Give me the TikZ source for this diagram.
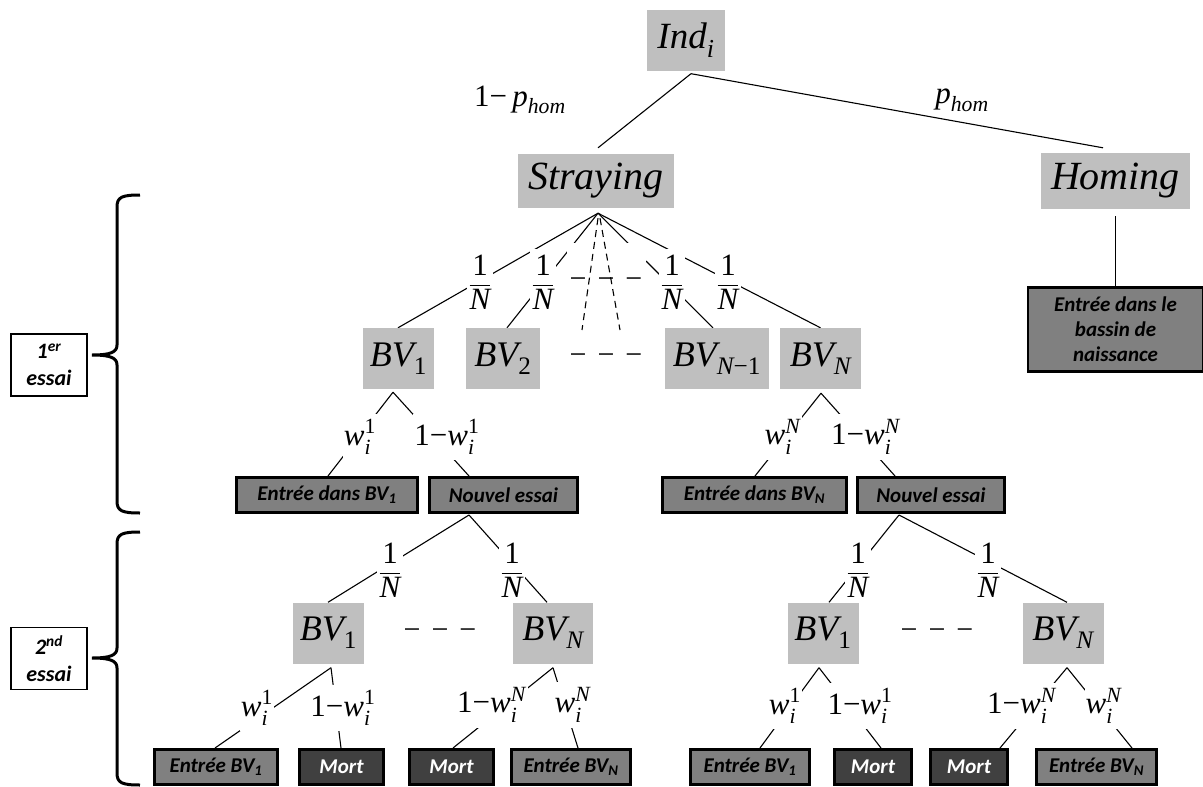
\documentclass[tikz,border=0pt]{standalone}
\usepackage{amsmath}
\usepackage{fontspec}
\setmainfont{Liberation Serif}
\newfontfamily\boxfont{Carlito}
\definecolor{bvgray}{RGB}{191,191,191}
\definecolor{outgray}{RGB}{128,128,128}
\definecolor{deadgray}{RGB}{64,64,64}
\pgfdeclarelayer{links}
\pgfsetlayers{links,main}

% probability labels
\newcommand\oneN{$\dfrac{\text{1}}{\textit{N}}$}
\newcommand\subi{\text{\raisebox{-1.5pt}{\textit{i}}}}
\newcommand\supN{\text{\raisebox{2pt}{\textit{N}}}}
\newcommand\supone{\text{\raisebox{2pt}{1}}}
\newcommand\wi[1]{$\textit{w}^{#1}_{\subi}$}
\newcommand\omwi[1]{$\text{1−}\textit{w}^{#1}_{\subi}$}
\newcommand\bvsub[1]{$\textit{BV}_{#1}$}
\newcommand\dashrow{−\hspace{11pt}−\hspace{11pt}−}

\begin{document}
\begin{tikzpicture}[x=1pt,y=-1pt,
  link/.style={line width=1.1pt},
  bvbox/.style={fill=bvgray, inner sep=0pt, minimum height=61pt, font=\fontsize{36}{40}\selectfont},
  topbox/.style={fill=bvgray, inner sep=0pt, font=\fontsize{40}{44}\selectfont\itshape},
  prob/.style={fill=white, inner xsep=1pt, inner ysep=6pt, font=\fontsize{31}{33}\selectfont},
  plainprob/.style={inner sep=0pt, font=\fontsize{31}{33}\selectfont},
  gap/.style={fill=white, inner sep=0pt, font=\fontsize{30}{32}\selectfont},
  outbox/.style={draw=black, line width=2.6pt, fill=outgray, minimum height=35.4pt, inner sep=0pt,
    font=\boxfont\bfseries\itshape\fontsize{21}{24}\selectfont},
  deadbox/.style={outbox, fill=deadgray, text=white},
  trialbox/.style={draw=black, line width=1.4pt, fill=white, minimum width=76pt, minimum height=62pt,
    inner sep=0pt, align=center, font=\boxfont\bfseries\itshape\fontsize{22}{27}\selectfont},
  brace/.style={line width=3pt}
]
\useasboundingbox (0,0) rectangle (1203,787);

% ---- root and first split
\node[topbox, minimum width=78pt, minimum height=61pt, font=\fontsize{37}{40}\selectfont] (ind) at (686,40) {\textit{Ind}$_{\textit{i}}$};
\node[topbox, minimum width=156pt, minimum height=54pt] (stray) at (596,181) {Straying};
\node[topbox, minimum width=149pt, minimum height=56pt] (homing) at (1115.5,181) {Homing};
\node[plainprob] (pstray) at (520,100) {$\text{1−\,}\textit{p}_{\textit{hom}}$};
\node[plainprob] (phome) at (962,100) {$\textit{p}_{\textit{hom}}$};
\node[outbox, minimum width=175.4pt, minimum height=84.4pt, align=center,
  font=\boxfont\bfseries\itshape\fontsize{21}{25}\selectfont] (bassin) at (1115.5,329.5)
  {Entrée dans le\\bassin de\\naissance};

% ---- first trial
\node[gap, minimum width=79pt, minimum height=80pt] (gap0) at (606,283) {\dashrow};
\node[prob] (f1) at (480,282) {\oneN};
\node[prob] (f2) at (543,282) {\oneN};
\node[prob] (f3) at (672,282) {\oneN};
\node[prob] (f4) at (728,282) {\oneN};

\node[bvbox, minimum width=71pt] (bv1) at (398.5,358.5) {\bvsub{\text{1}}};
\node[bvbox, minimum width=74pt] (bv2) at (503,358.5) {\bvsub{\text{2}}};
\node[gap] (gap1) at (606,359) {\dashrow};
\node[bvbox, minimum width=104pt] (bvn1) at (717,358.5) {\bvsub{\textit{N}\text{−1}}};
\node[bvbox, minimum width=81pt] (bvn) at (820.5,358.5) {\bvsub{\textit{N}}};

\node[prob] (w1) at (360,437) {\wi{\supone}};
\node[prob] (nw1) at (447,437) {\omwi{\supone}};
\node[prob] (wn) at (783,437) {\wi{\supN}};
\node[prob] (nwn) at (866,437) {\omwi{\supN}};

\node[outbox, minimum width=181.4pt] (e1) at (327,495) {Entrée dans BV\textsubscript{1}};
\node[outbox, minimum width=148.4pt] (ne1) at (503.5,495) {Nouvel essai};
\node[outbox, minimum width=184.4pt] (en) at (754.5,495) {Entrée dans BV\textsubscript{N}};
\node[outbox, minimum width=147.4pt] (ne2) at (931,495) {Nouvel essai};

% ---- second trial
\node[prob] (g1) at (390,570) {\oneN};
\node[prob] (g2) at (512,570) {\oneN};
\node[prob] (g3) at (858,570) {\oneN};
\node[prob] (g4) at (988,570) {\oneN};

\node[bvbox, minimum width=71pt] (l1) at (328.5,633) {\bvsub{\text{1}}};
\node[gap] (gapl) at (440,634) {\dashrow};
\node[bvbox, minimum width=80pt] (ln) at (553,633) {\bvsub{\textit{N}}};
\node[bvbox, minimum width=71pt] (r1) at (823,633) {\bvsub{\text{1}}};
\node[gap] (gapr) at (937,634) {\dashrow};
\node[bvbox, minimum width=81pt] (rn) at (1063,633) {\bvsub{\textit{N}}};

\node[prob] (lw1) at (257,708) {\wi{\supone}};
\node[prob] (lnw1) at (343,708) {\omwi{\supone}};
\node[prob] (lnwn) at (492,705) {\omwi{\supN}};
\node[prob] (lwn) at (573,705) {\wi{\supN}};
\node[prob] (rw1) at (785,706) {\wi{\supone}};
\node[prob] (rnw1) at (860,706) {\omwi{\supone}};
\node[prob] (rnwn) at (1022,706) {\omwi{\supN}};
\node[prob] (rwn) at (1104,706) {\wi{\supN}};

\node[outbox, minimum width=123.4pt] (b1) at (216,767) {Entrée BV\textsubscript{1}};
\node[deadbox, minimum width=84.4pt] (b2) at (341.5,767) {Mort};
\node[deadbox, minimum width=84.4pt] (b3) at (451.5,767) {Mort};
\node[outbox, minimum width=119.4pt] (b4) at (571,767) {Entrée BV\textsubscript{N}};
\node[outbox, minimum width=119.4pt] (b5) at (750,767) {Entrée BV\textsubscript{1}};
\node[deadbox, minimum width=77.4pt] (b6) at (873,767) {Mort};
\node[deadbox, minimum width=77.4pt] (b7) at (969,767) {Mort};
\node[outbox, minimum width=120.4pt] (b8) at (1096.5,767) {Entrée BV\textsubscript{N}};

% ---- trial labels and braces
\node[trialbox] (t1) at (49,365) {1\textsuperscript{er}\\essai};
\node[trialbox] (t2) at (49,658.5) {2\textsuperscript{nd}\\essai};
\draw[brace] (140,195) .. controls (122,195) and (117,197) .. (117,207) -- (117,345)
  .. controls (117,352) and (111,355) .. (92,355)
  .. controls (111,355) and (117,358) .. (117,365) -- (117,501)
  .. controls (117,511) and (122,513) .. (140,513);
\draw[brace] (140,532) .. controls (122,532) and (117,534) .. (117,544) -- (117,648)
  .. controls (117,655) and (111,658) .. (92,658)
  .. controls (111,658) and (117,661) .. (117,668) -- (117,773)
  .. controls (117,783) and (122,785) .. (140,785);

% ---- connectors
\begin{pgfonlayer}{links}
\draw[link] ([xshift=5pt,yshift=-3pt]ind.south) coordinate (indtip) -- ([xshift=2pt,yshift=6pt]stray.north);
\draw[link] (indtip) -- ([xshift=-12.5pt,yshift=5pt]homing.north);
\draw[link] ([yshift=-7pt]homing.south) -- (bassin.north);

\coordinate (stip) at ([xshift=2pt,yshift=-5pt]stray.south);
\draw[link] (stip) -- ([xshift=-0.5pt]bv1.north);
\draw[link] (stip) -- ([xshift=4pt]bv2.north);
\draw[link] (stip) -- ([xshift=-4pt]bvn1.north);
\draw[link] (stip) -- (bvn.north);

\coordinate (a1) at ([xshift=-5.5pt,yshift=-3pt]bv1.south);
\draw[link] (a1) -- ([xshift=1pt]e1.north);
\draw[link] (a1) -- ([xshift=-34.5pt]ne1.north);
\coordinate (an) at ([xshift=0.5pt,yshift=-4pt]bvn.south);
\draw[link] (an) -- ([xshift=0.5pt]en.north);
\draw[link] (an) -- ([xshift=-36pt]ne2.north);

\coordinate (n1) at ([xshift=-34.5pt,yshift=-1pt]ne1.south);
\draw[link] (n1) -- ([xshift=-0.5pt]l1.north);
\draw[link] (n1) -- ([xshift=-6pt]ln.north);
\coordinate (n2) at ([xshift=-32pt,yshift=-1pt]ne2.south);
\draw[link] (n2) -- ([xshift=6pt]r1.north);
\draw[link] (n2) -- ([xshift=4pt]rn.north);

\coordinate (c1) at ([xshift=2.5pt,yshift=-4pt]l1.south);
\draw[link] (c1) -- ([xshift=-1pt]b1.north);
\draw[link] (c1) -- ([xshift=-0.5pt]b2.north);
\coordinate (c2) at ([yshift=-4pt]ln.south);
\draw[link] (c2) -- ([xshift=1.5pt]b3.north);
\draw[link] (c2) -- ([xshift=7pt]b4.north);
\coordinate (c3) at ([xshift=-4pt,yshift=-4pt]r1.south);
\draw[link] (c3) -- ([xshift=10pt]b5.north);
\draw[link] (c3) -- ([xshift=8pt]b6.north);
\coordinate (c4) at ([xshift=4pt,yshift=-4pt]rn.south);
\draw[link] (c4) -- ([xshift=31pt]b7.north);
\draw[link] (c4) -- ([xshift=35.5pt]b8.north);
\end{pgfonlayer}

% dashed branches towards the unnamed basins, drawn over the gap
\coordinate (dl) at (582,330);
\coordinate (dr) at (620,330);
\draw[link, dash pattern=on 7pt off 5pt] ([yshift=-5pt]stip) -- (dl);
\draw[link, dash pattern=on 7pt off 5pt] ([xshift=2pt,yshift=-5pt]stip) -- (dr);
\end{tikzpicture}
\end{document}
